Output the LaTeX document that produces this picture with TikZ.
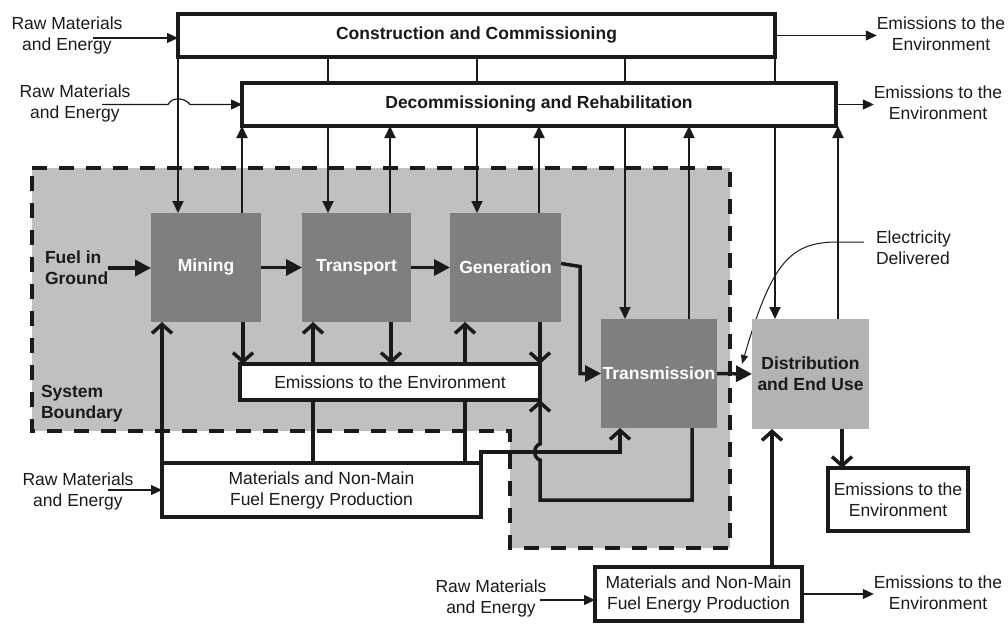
\documentclass[tikz,border=0pt]{standalone}
\usepackage{fontspec}
\setmainfont{Liberation Sans}
\usetikzlibrary{arrows.meta,calc}
\pgfdeclarelayer{bg}
\pgfdeclarelayer{wires}
\pgfsetlayers{bg,wires,main}

\definecolor{zone}{HTML}{C0C0C0}
\definecolor{stagegray}{HTML}{7F7F7F}
\definecolor{endgray}{HTML}{B3B3B3}
\definecolor{ink}{HTML}{1A1A1A}

\newcommand\lblfont{\fontsize{17.5}{21}\selectfont}

\tikzset{
  every node/.style={font=\lblfont, text=ink, inner sep=0pt, outer sep=0pt, align=center},
  phase/.style={draw=ink, line width=4pt, fill=white, font=\lblfont\bfseries},
  outbox/.style={draw=ink, line width=4pt, fill=white},
  stagebox/.style={fill=stagegray, text=white, font=\lblfont\bfseries,
                   minimum height=109pt},
  endbox/.style={fill=endgray, font=\lblfont\bfseries},
  boldlabel/.style={font=\lblfont\bfseries, align=left, anchor=west},
  link/.style={draw=ink, line width=2pt, -{Triangle[length=12pt,width=11pt]}},
  feed/.style={draw=ink, line width=1.2pt, -{Triangle[length=11pt,width=10pt]}},
  hint/.style={draw=ink, line width=1pt, -{Triangle[length=9pt,width=7pt]}},
  flow/.style={draw=ink, line width=3.5pt, -{Triangle[length=16pt,width=16pt]}},
  barb/.style={draw=ink, line width=3.5pt, line join=miter,
               -{Straight Barb[length=9pt,width=20pt]}},
}

\begin{document}
\begin{tikzpicture}[x=1pt,y=-1pt]
\useasboundingbox (0,0) rectangle (1008,626);

% ---- system boundary ----
\begin{pgfonlayer}{bg}
  \draw[draw=ink, line width=4pt, dash pattern=on 15pt off 12pt, fill=zone]
    (32,168) -- (730,168) -- (730,548) -- (510,548) -- (510,431) -- (32,431) -- cycle;
\end{pgfonlayer}

% ---- life-cycle phases ----
\node[phase, minimum width=597pt, minimum height=43pt] (constr) at (476.5,35.5)
  {Construction and Commissioning};
\node[phase, minimum width=594pt, minimum height=43pt] (decomm) at (539,104.5)
  {Decommissioning and Rehabilitation};

% ---- fuel chain stages ----
\node[stagebox, minimum width=110pt] (mining) at (206,267.5) {Mining};
\node[stagebox, minimum width=109pt] (transport) at (356.5,267.5) {Transport};
\node[stagebox, minimum width=111pt] (generation) at (505.5,267.5) {Generation};
\node[stagebox, minimum width=116pt] (transmission) at (659,373.5) {Transmission};
\node[endbox, minimum width=117pt, minimum height=110pt] (distrib) at (810.5,374)
  {Distribution\\and End Use};

% ---- emissions and supply boxes ----
\node[outbox, minimum width=300pt, minimum height=36pt] (emis) at (390,382)
  {Emissions to the Environment};
\node[outbox, minimum width=319pt, minimum height=54pt] (matL) at (321.5,490)
  {Materials and Non-Main\\Fuel Energy Production};
\node[outbox, minimum width=140pt, minimum height=63pt] (emisR) at (898,499.5)
  {Emissions to the\\Environment};
\node[outbox, minimum width=207pt, minimum height=54pt] (matB) at (698.5,594)
  {Materials and Non-Main\\Fuel Energy Production};

% ---- free labels ----
\node (raw1) at (67,35) {Raw Materials\\and Energy};
\node (raw2) at (75,103.5) {Raw Materials\\and Energy};
\node (raw3) at (78,491) {Raw Materials\\and Energy};
\node (raw4) at (491,598) {Raw Materials\\and Energy};
\node (emisT1) at (941,34) {Emissions to the\\Environment};
\node (emisT2) at (938,103) {Emissions to the\\Environment};
\node (emisT3) at (938,593) {Emissions to the\\Environment};
\node[boldlabel] (fuel) at (45,268) {Fuel in\\Ground};
\node[boldlabel] (sysb) at (41,404) {System\\Boundary};
\node[align=left, anchor=west] (elec) at (876,248) {Electricity\\Delivered};

% ---- attachment points on the stages ----
\coordinate (cM) at ([xshift=-28pt]mining.north);
\coordinate (dM) at ([xshift=36pt]mining.north);
\coordinate (cT) at ([xshift=-28.5pt]transport.north);
\coordinate (dT) at ([xshift=33.5pt]transport.north);
\coordinate (cG) at ([xshift=-28.5pt]generation.north);
\coordinate (dG) at ([xshift=33.5pt]generation.north);
\coordinate (cX) at ([xshift=-34pt]transmission.north);
\coordinate (dX) at ([xshift=30pt]transmission.north);
\coordinate (cD) at ([xshift=-35.5pt]distrib.north);
\coordinate (dD) at ([xshift=27.5pt]distrib.north);

\coordinate (mOut) at ([xshift=37pt]mining.south);
\coordinate (tOut) at ([xshift=34.5pt]transport.south);
\coordinate (gOut) at ([xshift=34.5pt]generation.south);
\coordinate (mIn) at ([xshift=-44pt]mining.south);
\coordinate (tIn) at ([xshift=-43.5pt]transport.south);
\coordinate (gIn) at ([xshift=-40.5pt]generation.south);
\coordinate (xIn) at ([xshift=-39pt]transmission.south);
\coordinate (xOut) at ([xshift=33pt]transmission.south);
\coordinate (bIn) at ([xshift=-38.5pt]distrib.south);
\coordinate (dOut) at ([xshift=31.5pt]distrib.south);

\coordinate (r1) at (93,38);
\coordinate (r2) at (102,104.5);
\coordinate (r3) at (108,490);
\coordinate (r4) at (540,600);
\coordinate (e1) at (864,242);

\begin{pgfonlayer}{wires}
  % construction feeds every stage, every stage feeds decommissioning
  \draw[link] (cM |- constr.south) -- (cM);
  \draw[link] (cT |- constr.south) -- (cT);
  \draw[link] (cG |- constr.south) -- (cG);
  \draw[link] (cX |- constr.south) -- (cX);
  \draw[link] (cD |- constr.south) -- (cD);
  \draw[link] (dM) -- (dM |- decomm.south);
  \draw[link] (dT) -- (dT |- decomm.south);
  \draw[link] (dG) -- (dG |- decomm.south);
  \draw[link] (dX) -- (dX |- decomm.south);
  \draw[link] (dD) -- (dD |- decomm.south);

  % inputs and outputs of the phases
  \draw[feed] (r1) -- (r1 -| constr.west);
  \draw[feed] (r2) -- (168,104.5) .. controls (172,97) and (184,97) .. (190,104.5)
    -- (decomm.west);
  \draw[feed] (constr.east) -- (constr.east -| emisT1.west);
  \draw[feed] (decomm.east) -- (decomm.east -| emisT2.west);

  % main energy chain
  \draw[flow] (fuel.east) -- (fuel.east -| mining.west);
  \draw[flow] (mining.east) -- (transport.west);
  \draw[flow] (transport.east) -- (generation.west);
  \draw[flow] ([yshift=4pt]generation.east) -- ++(19,3) |- (transmission.west);
  \draw[flow] (transmission.east) -- (distrib.west);

  % emissions from the stages
  \draw[barb] (mOut) -- (mOut |- emis.north);
  \draw[barb] (tOut) -- (tOut |- emis.north);
  \draw[barb] (gOut) -- (gOut |- emis.north);
  \draw[barb] (xOut) -- ++(0,72) -| (540,460)
    .. controls (533,458) and (533,446) .. (540,444) -- (emis.south east);

  % materials and non-main fuel energy to the stages
  \draw[barb] (mIn |- matL.north) -- (mIn);
  \draw[barb] (tIn |- matL.north) -- (tIn);
  \draw[barb] (gIn |- matL.north) -- (gIn);
  \draw[barb] (matL.north east) -- ++(0,-11) -| (xIn);
  \draw[feed] (r3) -- (matL.west);

  % distribution and end use
  \draw[barb] (bIn |- matB.north) -- (bIn);
  \draw[barb] (dOut) -- (dOut |- emisR.north);
  \draw[feed] (r4) -- (r4 -| matB.west);
  \draw[feed] (matB.east) -- (matB.east -| emisT3.west);
  \draw[hint] (e1) -- (838,242) .. controls (790,242) and (772,262)
    .. ([shift={(-10pt,10pt)}]distrib.west);
\end{pgfonlayer}
\end{tikzpicture}
\end{document}
